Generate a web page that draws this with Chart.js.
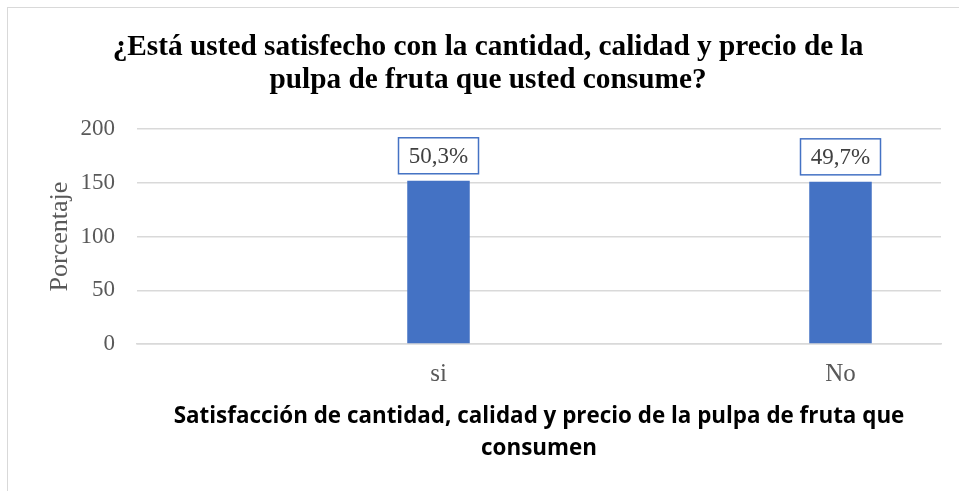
<!DOCTYPE html>
<html>
<head>
<meta charset="utf-8">
<script src="https://cdn.jsdelivr.net/npm/chart.js@4.4.1/dist/chart.umd.min.js"></script>
<style>
  html, body { margin: 0; padding: 0; background: #ffffff; }
  #frame { position: absolute; left: 7px; top: 7px; width: 1000px; height: 600px; border: 1.5px solid #d9d9d9; box-sizing: border-box; }
  #c { position: absolute; left: 0; top: 0; }
</style>
</head>
<body>
<div id="frame"></div>
<canvas id="c" width="959" height="491"></canvas>
<script>
const categories = ["", "si", "", "No"];
const values = [null, 152, null, 151];
const percentLabels = [null, "50,3%", null, "49,7%"];
const yTicks = [0, 50, 100, 150, 200];
const titleLines = ["¿Está usted satisfecho con la cantidad, calidad y precio de la", "pulpa de fruta que usted consume?"];
const xTitleLines = ["Satisfacción de cantidad, calidad y precio de la pulpa de fruta que", "consumen"];
const yTitle = "Porcentaje";

const boxLabels = {
  id: 'boxLabels',
  afterDatasetsDraw(chart) {
    const ctx = chart.ctx;
    const meta = chart.getDatasetMeta(0);
    ctx.save();
    meta.data.forEach((bar, i) => {
      const txt = percentLabels[i];
      if (!txt || values[i] == null) return;
      const w = 80, h = 36;
      const x = bar.x - w / 2;
      const y = bar.y - 7 - h;
      ctx.fillStyle = '#ffffff';
      ctx.fillRect(x, y, w, h);
      ctx.strokeStyle = '#4472C4';
      ctx.lineWidth = 1.5;
      ctx.strokeRect(x, y, w, h);
      ctx.fillStyle = '#404040';
      ctx.font = '23px "Liberation Serif"';
      ctx.textAlign = 'center';
      ctx.textBaseline = 'middle';
      ctx.fillText(txt, bar.x, y + h / 2 + 1);
    });
    ctx.restore();
  }
};

new Chart(document.getElementById('c'), {
  type: 'bar',
  data: {
    labels: categories,
    datasets: [{
      data: values,
      backgroundColor: '#4472C4',
      borderWidth: 0,
      barPercentage: 0.311,
      categoryPercentage: 1
    }]
  },
  options: {
    responsive: false,
    animation: false,
    layout: { padding: { left: 35, right: 18, top: 0, bottom: 0 } },
    plugins: {
      legend: { display: false },
      tooltip: { enabled: false },
      title: {
        display: true,
        text: titleLines,
        color: '#000000',
        font: { family: '"Liberation Serif"', size: 29.3, weight: 'bold', lineHeight: 1.13 },
        padding: { top: 31, bottom: 32 }
      }
    },
    scales: {
      x: {
        grid: { display: false, drawTicks: false },
        border: { display: true, color: '#d9d9d9', width: 1.5 },
        ticks: {
          color: '#595959',
          font: { family: '"Liberation Serif"', size: 25, lineHeight: 1.2 },
          padding: 15,
          maxRotation: 0,
          autoSkip: false
        },
        title: {
          display: true,
          text: xTitleLines,
          color: '#000000',
          font: { family: '"Open Sans"', size: 22.4, weight: 'bold', lineHeight: 1.4 },
          padding: { top: 0, bottom: 27 }
        },
        afterFit(scale) { scale.height = 147; }
      },
      y: {
        min: 0,
        max: 200,
        afterBuildTicks(scale) { scale.ticks = yTicks.map(v => ({ value: v })); },
        grid: { color: '#d9d9d9', lineWidth: 1.5, drawTicks: false },
        border: { display: false },
        ticks: {
          color: '#595959',
          font: { family: '"Liberation Serif"', size: 23 },
          padding: 22
        },
        title: {
          display: true,
          text: yTitle,
          color: '#595959',
          font: { family: '"Liberation Serif"', size: 26, lineHeight: 1.2 },
          padding: { top: 10, bottom: 0 }
        },
        afterFit(scale) { scale.width = 102; }
      }
    }
  },
  plugins: [boxLabels]
});
</script>
</body>
</html>
